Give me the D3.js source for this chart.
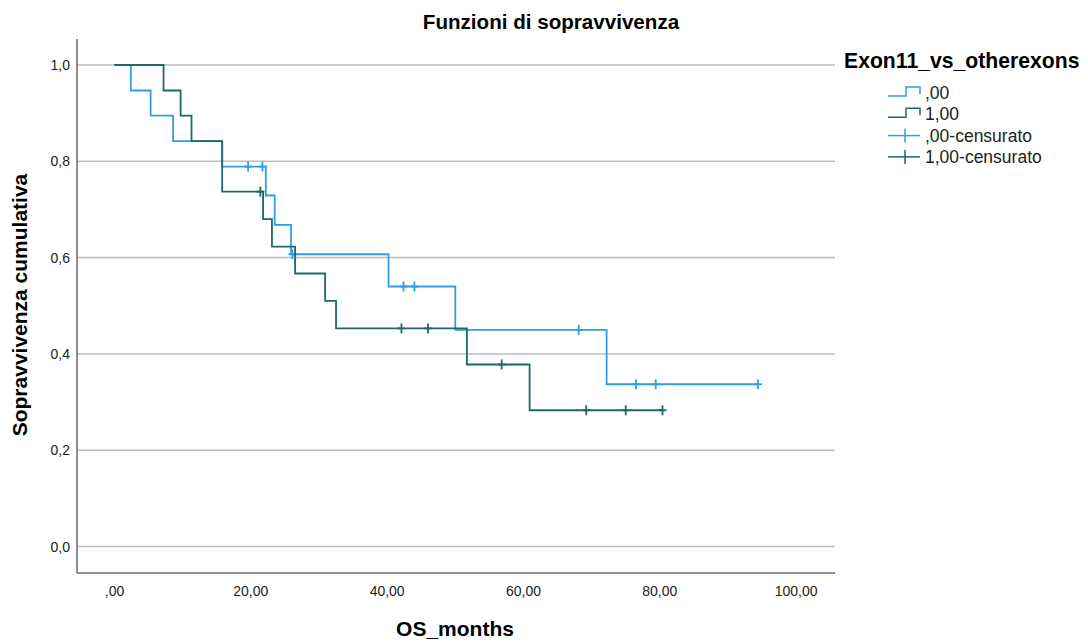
<!DOCTYPE html>
<html>
<head>
<meta charset="utf-8">
<script src="https://cdn.jsdelivr.net/npm/d3@7"></script>
<style>
  body { margin: 0; background: #fff; }
  text { font-family: "Liberation Sans", Arial, sans-serif; }
</style>
</head>
<body>
<div id="chart"></div>
<script>
// survival steps (time in months, cumulative survival after the step)
var groupLabels = [",00", "1,00"];
var censorLabels = [",00-censurato", "1,00-censurato"];

var stepTimes0 = [0, 2.4, 5.3, 8.6, 15.8, 22.2, 23.5, 25.9, 40.2, 50.0, 72.2];
var stepSurv0 = [1.0, 0.947, 0.895, 0.842, 0.789, 0.729, 0.668, 0.607, 0.540, 0.450, 0.337];
var censorTimes0 = [19.6, 21.7, 26.1, 42.4, 44.0, 68.1, 76.5, 79.4, 94.4];
var censorSurv0 = [0.789, 0.789, 0.607, 0.540, 0.540, 0.450, 0.337, 0.337, 0.337];

var stepTimes1 = [0, 7.2, 9.7, 11.3, 15.8, 21.8, 23.1, 26.5, 30.9, 32.5, 51.7, 60.9];
var stepSurv1 = [1.0, 0.947, 0.895, 0.842, 0.737, 0.680, 0.623, 0.567, 0.510, 0.453, 0.378, 0.283];
var censorTimes1 = [21.4, 42.1, 46.0, 56.8, 69.2, 75.0, 80.4];
var censorSurv1 = [0.737, 0.453, 0.453, 0.378, 0.283, 0.283, 0.283];

var xTicks = [0, 20, 40, 60, 80, 100];
var xTickLabels = [",00", "20,00", "40,00", "60,00", "80,00", "100,00"];
var yTicks = [0, 0.2, 0.4, 0.6, 0.8, 1.0];
var yTickLabels = ["0,0", "0,2", "0,4", "0,6", "0,8", "1,0"];

var colors = ["#2e9fe6", "#1c6a66"];

var width = 1088, height = 642;

var svg = d3.select("#chart").append("svg")
    .attr("width", width)
    .attr("height", height);

var x = d3.scaleLinear().domain([-5.5, 105.7]).range([77, 835]);
var y = d3.scaleLinear().domain([-0.055, 1.054]).range([573, 39]);

// gridlines
svg.append("g").selectAll("line")
    .data(yTicks)
    .enter().append("line")
    .attr("x1", x.range()[0])
    .attr("x2", x.range()[1])
    .attr("y1", function (d) { return y(d); })
    .attr("y2", function (d) { return y(d); })
    .attr("stroke", "#bdbdbd")
    .attr("stroke-width", 1.5);

// axis lines
svg.append("line")
    .attr("x1", 77).attr("x2", 77)
    .attr("y1", y.range()[1]).attr("y2", y.range()[0])
    .attr("stroke", "#6b6b6b").attr("stroke-width", 1.5);
svg.append("line")
    .attr("x1", 77).attr("x2", x.range()[1])
    .attr("y1", y.range()[0]).attr("y2", y.range()[0])
    .attr("stroke", "#6b6b6b").attr("stroke-width", 1.5);

// tick labels
svg.append("g").selectAll("text")
    .data(yTicks)
    .enter().append("text")
    .attr("x", 70)
    .attr("y", function (d) { return y(d) + 5; })
    .attr("text-anchor", "end")
    .attr("font-size", "14px")
    .attr("fill", "#222")
    .text(function (d, i) { return yTickLabels[i]; });

svg.append("g").selectAll("text")
    .data(xTicks)
    .enter().append("text")
    .attr("x", function (d) { return x(d); })
    .attr("y", 596)
    .attr("text-anchor", "middle")
    .attr("font-size", "14px")
    .attr("fill", "#222")
    .text(function (d, i) { return xTickLabels[i]; });

// titles
svg.append("text")
    .attr("x", 551).attr("y", 29)
    .attr("text-anchor", "middle")
    .attr("font-size", "20.6px")
    .attr("font-weight", "bold")
    .text("Funzioni di sopravvivenza");

svg.append("text")
    .attr("x", 455).attr("y", 636)
    .attr("text-anchor", "middle")
    .attr("font-size", "21px")
    .attr("font-weight", "bold")
    .text("OS_months");

svg.append("text")
    .attr("transform", "translate(27,305) rotate(-90)")
    .attr("text-anchor", "middle")
    .attr("font-size", "21px")
    .attr("font-weight", "bold")
    .text("Sopravvivenza cumulativa");

// survival curves
var series = [
    {times: stepTimes0, surv: stepSurv0, cTimes: censorTimes0, cSurv: censorSurv0},
    {times: stepTimes1, surv: stepSurv1, cTimes: censorTimes1, cSurv: censorSurv1}
];

var line = d3.line()
    .x(function (d) { return x(d[0]); })
    .y(function (d) { return y(d[1]); })
    .curve(d3.curveStepAfter);

series.forEach(function (s, k) {
    var pts = s.times.map(function (t, i) { return [t, s.surv[i]]; });
    var lastT = d3.max(s.cTimes);
    pts.push([lastT, s.surv[s.surv.length - 1]]);

    svg.append("path")
        .datum(pts)
        .attr("d", line)
        .attr("fill", "none")
        .attr("stroke", colors[k])
        .attr("stroke-width", 1.8);

    var marks = svg.append("g").selectAll("g")
        .data(s.cTimes.map(function (t, i) { return [t, s.cSurv[i]]; }))
        .enter().append("g")
        .attr("transform", function (d) { return "translate(" + x(d[0]) + "," + y(d[1]) + ")"; });
    marks.append("line")
        .attr("x1", 0).attr("x2", 0).attr("y1", -5).attr("y2", 5)
        .attr("stroke", colors[k]).attr("stroke-width", 1.8);
    marks.append("line")
        .attr("x1", -4).attr("x2", 4).attr("y1", 0).attr("y2", 0)
        .attr("stroke", colors[k]).attr("stroke-width", 1.8);
});

// legend
var legend = svg.append("g");
legend.append("text")
    .attr("x", 844).attr("y", 68)
    .attr("font-size", "21.2px")
    .attr("font-weight", "bold")
    .text("Exon11_vs_otherexons");

var legendRows = [
    {label: groupLabels[0], color: colors[0], type: "step"},
    {label: groupLabels[1], color: colors[1], type: "step"},
    {label: censorLabels[0], color: colors[0], type: "cens"},
    {label: censorLabels[1], color: colors[1], type: "cens"}
];

legendRows.forEach(function (r, i) {
    var cy = 93 + i * 21.3;
    if (r.type == "step") {
        legend.append("path")
            .attr("d", "M888," + (cy + 3) + "H906V" + (cy - 6) + "H920V" + (cy + 1))
            .attr("fill", "none")
            .attr("stroke", r.color)
            .attr("stroke-width", 1.5);
    } else {
        legend.append("line")
            .attr("x1", 888).attr("x2", 920).attr("y1", cy).attr("y2", cy)
            .attr("stroke", r.color).attr("stroke-width", 1.5);
        legend.append("line")
            .attr("x1", 905).attr("x2", 905).attr("y1", cy - 7).attr("y2", cy + 7)
            .attr("stroke", r.color).attr("stroke-width", 1.5);
    }
    legend.append("text")
        .attr("x", 925).attr("y", cy + 6)
        .attr("font-size", "17.5px")
        .attr("fill", "#222")
        .text(r.label);
});
</script>
</body>
</html>
